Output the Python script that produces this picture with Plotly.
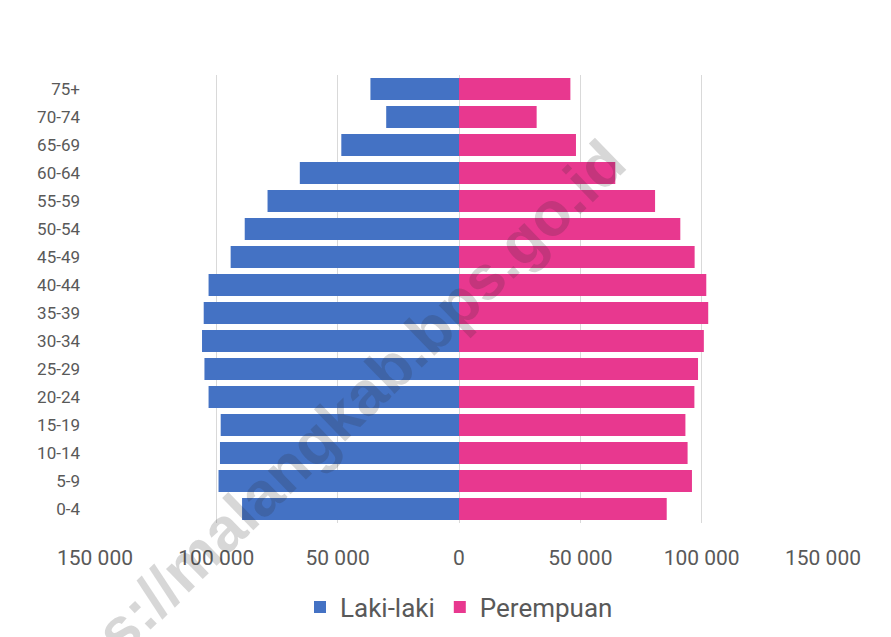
import plotly.graph_objects as go

age_groups = ["0-4", "5-9", "10-14", "15-19", "20-24", "25-29", "30-34", "35-39",
              "40-44", "45-49", "50-54", "55-59", "60-64", "65-69", "70-74", "75+"]
laki_laki = [89400, 99100, 98500, 98200, 103200, 104900, 105900, 105200,
             103200, 94100, 88300, 78900, 65600, 48500, 30000, 36500]
perempuan = [85600, 96000, 94200, 93300, 97000, 98500, 100900, 102700,
             101900, 97100, 91200, 80800, 64400, 48200, 32000, 45900]
tick_vals = [-150000, -100000, -50000, 0, 50000, 100000, 150000]
tick_text = ["150 000", "100 000", "50 000", "0", "50 000", "100 000", "150 000"]

FONT = "Liberation Sans Narrow, Roboto, Liberation Sans, sans-serif"

fig = go.Figure()
fig.add_trace(go.Bar(
    y=age_groups, x=[-v for v in laki_laki], orientation="h", name="Laki-laki",
    marker=dict(color="#4472C4", line=dict(width=0)),
    customdata=laki_laki, hovertemplate="%{y}: %{customdata}<extra>Laki-laki</extra>"))
fig.add_trace(go.Bar(
    y=age_groups, x=perempuan, orientation="h", name="Perempuan",
    marker=dict(color="#E8388F", line=dict(width=0)),
    hovertemplate="%{y}: %{x}<extra>Perempuan</extra>"))

# the page body adds an 8px offset, so the figure is 8px smaller and shifted
fig.update_layout(
    width=883, height=629,
    barmode="relative", bargap=0.22,
    paper_bgcolor="white", plot_bgcolor="white",
    margin=dict(l=87, r=68, t=67, b=114, autoexpand=False),
    font=dict(family=FONT, color="#595959"),
    xaxis=dict(range=[-150000, 150000], tickvals=tick_vals, ticktext=tick_text,
               showgrid=True, gridcolor="#D9D9D9", gridwidth=1,
               zeroline=True, zerolinecolor="#D9D9D9", zerolinewidth=1,
               showline=False, ticks="", tickfont=dict(size=21, color="#595959"),
               ticklabelstandoff=20, automargin=False),
    yaxis=dict(showgrid=False, zeroline=False, showline=False, ticks="",
               tickfont=dict(size=17, color="#595959"), ticklabelstandoff=14,
               automargin=False),
    legend=dict(orientation="h", x=0.5, xanchor="center", y=-0.1875, yanchor="middle",
                font=dict(size=26, color="#595959"), itemwidth=30,
                traceorder="normal"),
    annotations=[dict(text="https://malangkab.bps.go.id", xref="paper", yref="paper",
                      x=0.307, y=0.19, xanchor="center", yanchor="middle",
                      showarrow=False, textangle=-44,
                      font=dict(size=62, color="rgba(40,40,40,0.19)",
                                family="Liberation Sans, sans-serif", weight="bold"))],
)

fig.write_html("out.html")
